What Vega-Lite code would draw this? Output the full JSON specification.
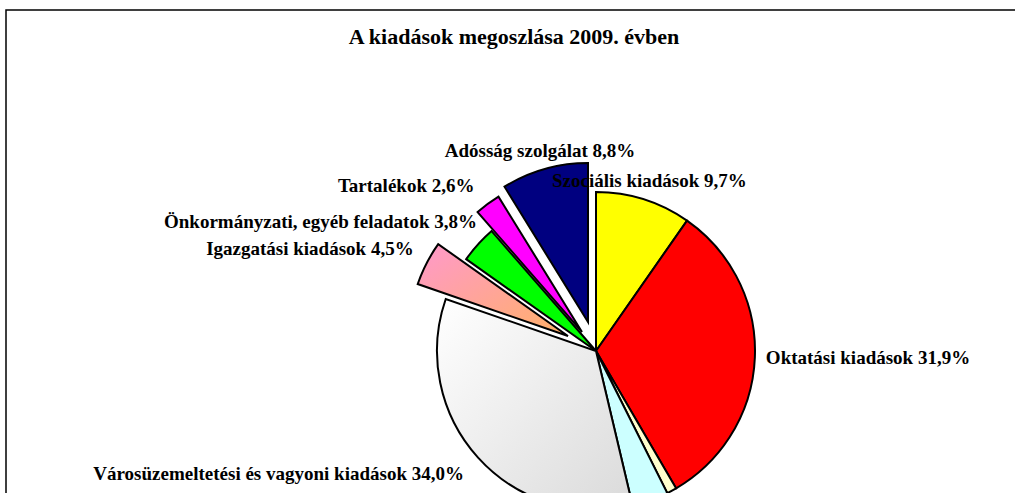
{
  "$schema": "https://vega.github.io/schema/vega-lite/v6.json",
  "width": 1180,
  "height": 682,
  "autosize": {"type": "none"},
  "padding": {"left": 6, "top": 10, "right": 0, "bottom": 0},
  "background": "white",
  "view": {"stroke": "black", "strokeWidth": 1.5},
  "title": {
    "text": "A kiadások megoszlása 2009. évben",
    "font": "Liberation Serif",
    "fontSize": 22,
    "fontWeight": "bold",
    "color": "black",
    "anchor": "middle",
    "dx": -82,
    "offset": -56,
    "baseline": "alphabetic"
  },
  "data": {
    "values": [
      {"kategoria": "Szociális kiadások", "ertek": 9.7},
      {"kategoria": "Oktatási kiadások", "ertek": 31.9},
      {"kategoria": "Egyéb (1)", "ertek": 1.0},
      {"kategoria": "Egyéb (2)", "ertek": 3.7},
      {"kategoria": "Városüzemeltetési és vagyoni kiadások", "ertek": 34.0},
      {"kategoria": "Igazgatási kiadások", "ertek": 4.5},
      {"kategoria": "Önkormányzati, egyéb feladatok", "ertek": 3.8},
      {"kategoria": "Tartalékok", "ertek": 2.6},
      {"kategoria": "Adósság szolgálat", "ertek": 8.8}
    ]
  },
  "transform": [
    {"stack": "ertek", "groupby": [], "as": ["t0", "t1"]},
    {"calculate": "indexof(['Egyéb (1)', 'Egyéb (2)'], datum.kategoria) >= 0 ? '' : datum.kategoria + ' ' + replace(format(datum.ertek, '.1f'), '.', ',') + '%'", "as": "cimke"}
  ],
  "layer": [
    {
      "transform": [{"filter": {"field": "kategoria", "oneOf": ["Szociális kiadások", "Oktatási kiadások", "Egyéb (1)", "Egyéb (2)", "Önkormányzati, egyéb feladatok"]}}],
      "mark": {"type": "arc", "outerRadius": 159, "stroke": "black", "strokeWidth": 2, "strokeJoin": "miter"},
      "encoding": {
        "theta": {"field": "t0", "type": "quantitative", "scale": {"domain": [0, 100]}},
        "theta2": {"field": "t1"},
        "color": {
          "field": "kategoria",
          "type": "nominal",
          "legend": null,
          "scale": {
            "domain": ["Szociális kiadások", "Oktatási kiadások", "Egyéb (1)", "Egyéb (2)", "Városüzemeltetési és vagyoni kiadások", "Igazgatási kiadások", "Önkormányzati, egyéb feladatok", "Tartalékok", "Adósság szolgálat"],
            "range": ["#FFFF00", "#FF0000", "#FFFFCC", "#CCFFFF", "#EEEEEE", "#FFAA99", "#00FF00", "#FF00FF", "#000080"]
          }
        }
      }
    },
    {
      "transform": [{"filter": {"field": "kategoria", "equal": "Városüzemeltetési és vagyoni kiadások"}}],
      "mark": {
        "type": "arc", "outerRadius": 159, "stroke": "black", "strokeWidth": 2, "strokeJoin": "miter",
        "fill": {"gradient": "linear", "x1": 0, "y1": 0, "x2": 1, "y2": 1, "stops": [{"offset": 0, "color": "#FFFFFF"}, {"offset": 1, "color": "#DADADA"}]}
      },
      "encoding": {
        "theta": {"field": "t0", "type": "quantitative"},
        "theta2": {"field": "t1"}
      }
    },
    {
      "transform": [{"filter": {"field": "kategoria", "equal": "Igazgatási kiadások"}}],
      "mark": {
        "type": "arc", "outerRadius": 159, "stroke": "black", "strokeWidth": 2, "strokeJoin": "miter",
        "xOffset": -28, "yOffset": -15,
        "fill": {"gradient": "linear", "x1": 0, "y1": 0, "x2": 1, "y2": 1, "stops": [{"offset": 0, "color": "#FF99CC"}, {"offset": 1, "color": "#FFB066"}]}
      },
      "encoding": {
        "theta": {"field": "t0", "type": "quantitative"},
        "theta2": {"field": "t1"}
      }
    },
    {
      "transform": [{"filter": {"field": "kategoria", "equal": "Tartalékok"}}],
      "mark": {"type": "arc", "outerRadius": 159, "stroke": "black", "strokeWidth": 2, "strokeJoin": "miter", "xOffset": -14, "yOffset": -19},
      "encoding": {
        "theta": {"field": "t0", "type": "quantitative"},
        "theta2": {"field": "t1"},
        "color": {"field": "kategoria", "type": "nominal", "legend": null}
      }
    },
    {
      "transform": [{"filter": {"field": "kategoria", "equal": "Adósság szolgálat"}}],
      "mark": {"type": "arc", "outerRadius": 159, "stroke": "black", "strokeWidth": 2, "strokeJoin": "miter", "xOffset": -8, "yOffset": -29},
      "encoding": {
        "theta": {"field": "t0", "type": "quantitative"},
        "theta2": {"field": "t1"},
        "color": {"field": "kategoria", "type": "nominal", "legend": null}
      }
    },
    {
      "mark": {
        "type": "text",
        "font": "Liberation Serif",
        "fontSize": 19,
        "fontWeight": "bold",
        "color": "black",
        "baseline": "middle",
        "radius": {"expr": "indexof(['Igazgatási kiadások', 'Tartalékok', 'Adósság szolgálat'], datum.kategoria) >= 0 ? 205 : (datum.kategoria == 'Oktatási kiadások' ? 170 : 178)"},
        "dx": {"expr": "datum.kategoria == 'Önkormányzati, egyéb feladatok' ? 13 : 0"},
        "dy": {"expr": "datum.kategoria == 'Önkormányzati, egyéb feladatok' ? -10 : (datum.kategoria == 'Igazgatási kiadások' ? -8 : (datum.kategoria == 'Adósság szolgálat' ? -3 : (datum.kategoria == 'Városüzemeltetési és vagyoni kiadások' ? 4 : 0)))"},
        "align": {"expr": "indexof(['Szociális kiadások', 'Adósság szolgálat'], datum.kategoria) >= 0 ? 'center' : (datum.kategoria == 'Oktatási kiadások' ? 'left' : 'right')"}
      },
      "encoding": {
        "theta": {"field": "ertek", "type": "quantitative", "stack": true},
        "order": {"field": "t0", "type": "quantitative"},
        "text": {"field": "cimke", "type": "nominal"}
      }
    }
  ]
}
